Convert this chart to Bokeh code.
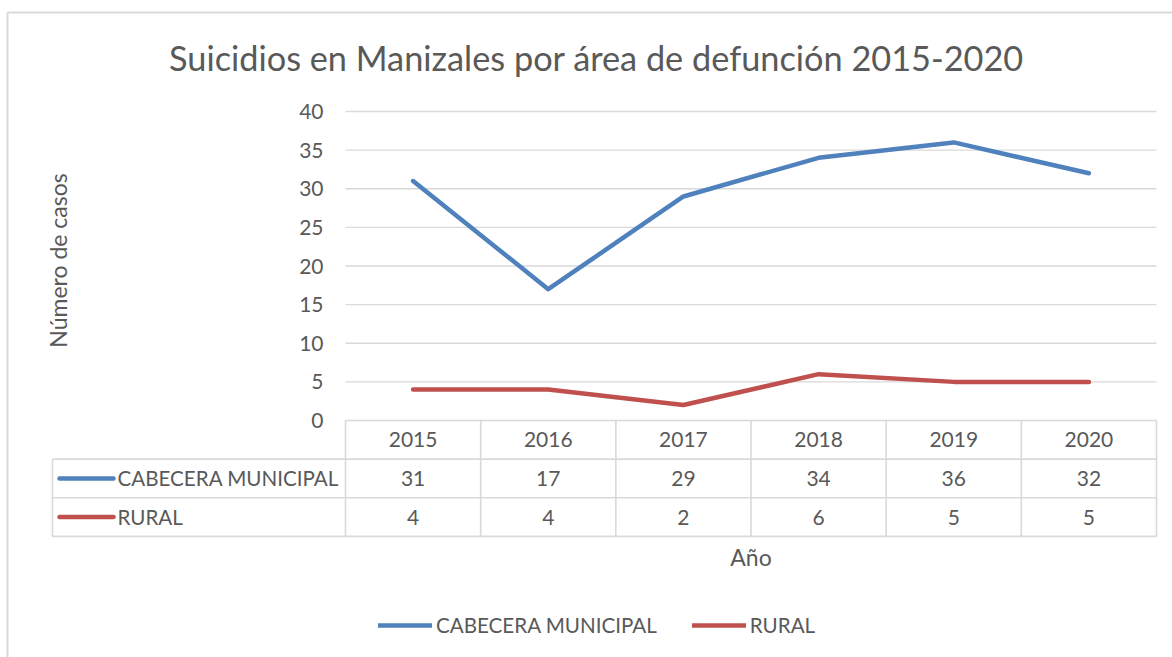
from bokeh.plotting import figure
from bokeh.models import Range1d, LinearAxis, FixedTicker, Legend, LegendItem, ColumnDataSource
from bokeh.core.properties import value
from bokeh.embed import file_html
from bokeh.resources import INLINE
import math

# ---------------- data ----------------
years = ["2015", "2016", "2017", "2018", "2019", "2020"]
cabecera = [31, 17, 29, 34, 36, 32]
rural = [4, 4, 2, 6, 5, 5]
series_names = ["CABECERA MUNICIPAL", "RURAL"]
y_ticks = [0, 5, 10, 15, 20, 25, 30, 35, 40]
title_text = "Suicidios en Manizales por área de defunción 2015-2020"
y_title = "Número de casos"
x_title = "Año"

# ---------------- layout ----------------
FONT = "Lato"
TXT = "#595959"
GRID = "#d9d9d9"
BLUE = "#4f81bd"
RED = "#c0504d"
W, H = 1172, 657
PLOT_L, PLOT_R = 345, 1156   # canvas px of plot area
PLOT_T, PLOT_B = 111, 420
ux = (PLOT_R - PLOT_L) / len(years)
uy = (PLOT_B - PLOT_T) / 40.0
x_start = -PLOT_L / ux
x_end = len(years) + (W - PLOT_R) / ux
y_end = 40 + PLOT_T / uy
y_start = -(H - PLOT_B) / uy


def dx(cx):
    return (cx - PLOT_L) / ux


def dy(cy):
    return (PLOT_B - cy) / uy


p = figure(width=W, height=H, x_range=Range1d(x_start, x_end), y_range=Range1d(y_start, y_end),
           output_backend="svg", toolbar_location=None, x_axis_location=None, y_axis_location=None,
           min_border=0, outline_line_color=None, background_fill_color="white",
           border_fill_color="white")
p.xgrid.visible = False
p.ygrid.visible = False

# chart border (left / top)
p.segment(x0=[dx(7), dx(7)], x1=[dx(7), x_end], y0=[dy(12), dy(12)], y1=[y_start, dy(12)],
          line_color=GRID, line_width=2)

# y axis tick labels
yax = LinearAxis(fixed_location=0, bounds=(0, 40), ticker=FixedTicker(ticks=y_ticks),
                 axis_line_color=None, major_tick_line_color=None, minor_tick_line_color=None,
                 major_tick_in=0, major_tick_out=0, major_label_standoff=22,
                 major_label_text_font=FONT, major_label_text_font_size="21px",
                 major_label_text_color=TXT)
p.add_layout(yax, "left")

# gridlines
n = len(years)
p.segment(x0=[0] * len(y_ticks), x1=[n] * len(y_ticks), y0=y_ticks, y1=y_ticks,
          line_color=GRID, line_width=1.3)

# data table lines
row_h = 5.0
table_left = dx(52)
hy = [-row_h, -2 * row_h, -3 * row_h]
p.segment(x0=[table_left] * 3, x1=[n] * 3, y0=hy, y1=hy, line_color=GRID, line_width=1.6)
vx = list(range(n + 1))
p.segment(x0=vx, x1=vx, y0=[0] * len(vx), y1=[-3 * row_h] * len(vx), line_color=GRID, line_width=1.6)
p.segment(x0=[table_left], x1=[table_left], y0=[-row_h], y1=[-3 * row_h], line_color=GRID, line_width=1.6)

centers = [i + 0.5 for i in range(n)]
tsrc = ColumnDataSource(dict(
    x=centers * 3,
    y=[-0.5 * row_h] * n + [-1.5 * row_h] * n + [-2.5 * row_h] * n,
    t=years + [str(v) for v in cabecera] + [str(v) for v in rural],
))
p.text(x="x", y="y", text="t", source=tsrc, text_font=value(FONT), text_font_size="21px",
       text_color=TXT, text_align="center", text_baseline="middle")

# row label keys
p.segment(x0=[dx(59)] * 2, x1=[dx(113)] * 2, y0=[-1.5 * row_h, -2.5 * row_h], y1=[-1.5 * row_h, -2.5 * row_h],
          line_color=[BLUE, RED], line_width=4.5, line_cap="round")
p.text(x=[dx(117)] * 2, y=[-1.5 * row_h, -2.5 * row_h], text=series_names, text_font=value(FONT),
       text_font_size="20.6px", text_color=TXT, text_align="left", text_baseline="middle")

# series lines
r1 = p.line(centers, cabecera, line_color=BLUE, line_width=4.5, line_cap="round", line_join="round")
r2 = p.line(centers, rural, line_color=RED, line_width=4.5, line_cap="round", line_join="round")

# titles
p.text(x=[dx(596)], y=[dy(57)], text=[title_text], text_font=value(FONT), text_font_size="34.3px",
       text_color=TXT, text_align="center", text_baseline="middle")
p.text(x=[n / 2], y=[dy(556)], text=[x_title], text_font=value(FONT), text_font_size="23px",
       text_color=TXT, text_align="center", text_baseline="middle")
p.text(x=[dx(57)], y=[dy(260)], text=[y_title], text_font=value(FONT), text_font_size="23px",
       text_color=TXT, text_align="center", text_baseline="middle", angle=math.pi / 2)

# legend
legend = Legend(items=[LegendItem(label=series_names[0], renderers=[r1]),
                       LegendItem(label=series_names[1], renderers=[r2])],
                orientation="horizontal", location=(378, H - 626 - 11), glyph_width=54, glyph_height=22,
                label_height=22, label_standoff=4, spacing=35, padding=0, margin=0,
                border_line_color=None, background_fill_alpha=0,
                label_text_font=FONT, label_text_font_size="20.6px", label_text_color=TXT)
p.add_layout(legend)

open("out.html", "w").write(file_html(p, INLINE))
